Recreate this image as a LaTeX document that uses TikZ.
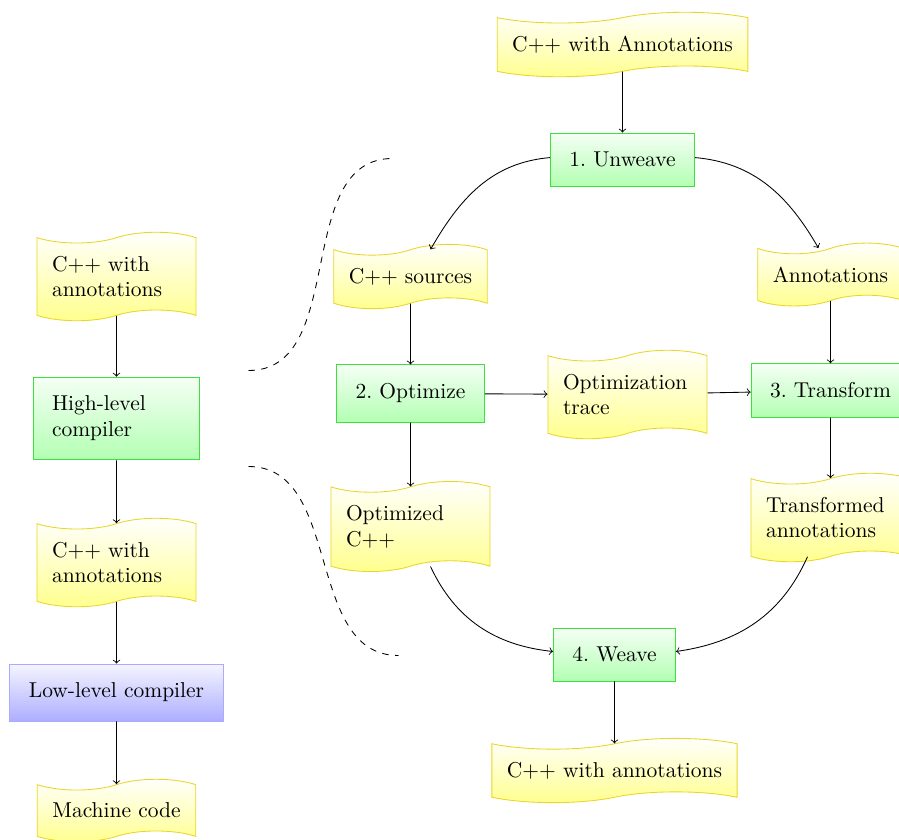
\documentclass[tikz,border=0pt]{standalone}
\usetikzlibrary{shapes.symbols}
\definecolor{docedge}{RGB}{232,214,40}
\definecolor{procedge}{RGB}{60,225,60}
\definecolor{lowedge}{RGB}{170,170,255}
\begin{document}
\begin{tikzpicture}[x=0.46512pt,y=-0.46512pt,
  docnode/.style={tape, draw=docedge, top color=white, bottom color=yellow!45,
    inner xsep=7pt, inner ysep=6pt, tape bend height=5pt, align=left},
  docwide/.style={docnode, text width=60pt},
  procnode/.style={rectangle, draw=procedge, top color=green!4, bottom color=green!30,
    inner sep=8.8pt, align=left},
  lownode/.style={procnode, draw=lowedge, top color=blue!4, bottom color=blue!32},
  link/.style={->},
  zoomline/.style={dashed}]
\useasboundingbox (0,0) rectangle (899,840);

\begin{scope}[shift={(0.5,0.5)}]
% right column: the four-step pipeline
\node[docnode] (A) at (622,44) {C++ with Annotations};
\node[procnode] (U) at (622,159) {1.\ Unweave};
\node[docnode] (CS) at (410,276) {C++ sources};
\node[docnode] (AN) at (830,274) {Annotations};
\node[procnode] (O) at (410,393) {2.\ Optimize};
\node[docwide] (OT) at (627,394) {Optimization\\trace};
\node[procnode] (T) at (830,390) {3.\ Transform};
\node[docwide] (OC) at (410,526) {Optimized\\C++};
\node[docwide] (TA) at (830,517) {Transformed\\annotations};
\node[procnode] (W) at (614,654) {4.\ Weave};
\node[docnode] (CA) at (614,770) {C++ with annotations};

% left column: the overall toolchain
\node[docwide] (L1) at (116,276) {C++ with\\annotations};
\node[procnode, text width=60pt] (HL) at (116,418) {High-level\\compiler};
\node[docwide] (L2) at (116,562) {C++ with\\annotations};
\node[lownode] (LL) at (116,692) {Low-level compiler};
\node[docnode] (MC) at (116,810) {Machine code};

% connectors
\draw[link] (A) -- (U);
\draw[link] ([yshift=0.9pt]U.west) to[out=185,in=60] ([xshift=9.3pt]CS.north);
\draw[link] ([yshift=0.9pt]U.east) to[out=-5,in=120] ([xshift=-5.6pt]AN.north);
\draw[link] (CS) -- (O);
\draw[link] (AN) -- (T);
\draw[link] (O) -- (OT);
\draw[link] (OT) -- (T);
\draw[link] (O) -- (OC);
\draw[link] (T) -- (TA);
\draw[link] ([xshift=9.3pt]OC.south) to[out=-65,in=174] ([yshift=1.4pt]W.west);
\draw[link] ([xshift=-10.7pt]TA.south) to[out=246,in=8] ([yshift=1.4pt]W.east);
\draw[link] (W) -- (CA);

\draw[link] (L1) -- (HL);
\draw[link] (HL) -- (L2);
\draw[link] (L2) -- (LL);
\draw[link] (LL) -- (MC);

% dashed zoom lines from the high-level compiler to the pipeline
\coordinate (z1a) at (248,370);
\coordinate (z1b) at (392,158);
\coordinate (z2a) at (248,466);
\coordinate (z2b) at (398,655);
\draw[zoomline] (z1a) to[out=0,in=180] (z1b);
\draw[zoomline] (z2a) to[out=0,in=180] (z2b);
\end{scope}
\end{tikzpicture}
\end{document}
